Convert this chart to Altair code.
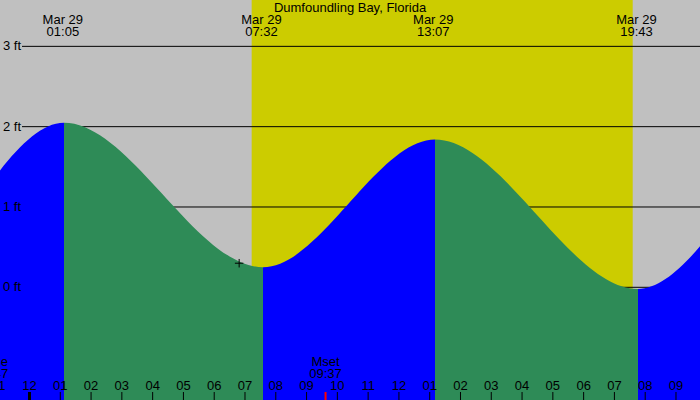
import altair as alt
import pandas as pd

# ---------------- data ----------------
# tide extrema: hours after Mar 29 00:00, height in feet (first/last two are off-screen neighbours)
extrema_time = [-11.0, -4.72, 1.121, 7.585, 13.172, 19.756, 25.7, 32.0]
extrema_ft = [1.9, 0.0, 2.05, 0.25, 1.84, -0.02, 1.95, 0.2]

# labelled extrema at the top
label_time = [1.0833, 7.5333, 13.1167, 19.7167]
label_date = ["Mar 29", "Mar 29", "Mar 29", "Mar 29"]
label_clock = ["01:05", "07:32", "13:07", "19:43"]

# daylight interval (hours)
sun_rise = [7.217]
sun_set = [19.594]

# height grid
ft_levels = [0, 1, 2, 3]
ft_labels = ["0 ft", "1 ft", "2 ft", "3 ft"]

# hour ticks along the bottom
hour_times = [-1, 0, 1, 2, 3, 4, 5, 6, 7, 8, 9, 10, 11, 12, 13, 14, 15, 16, 17, 18, 19, 20, 21]
hour_labels = ["11", "12", "01", "02", "03", "04", "05", "06", "07", "08", "09", "10",
               "11", "12", "01", "02", "03", "04", "05", "06", "07", "08", "09"]
midnight = [0]

# moon events
moon_time = [-1.2167, 9.6167]
moon_event = ["Mrise", "Mset"]
moon_clock = ["22:47", "09:37"]

# current-time marker
marker_time = [6.81]
marker_ft = [0.30]

title_text = "Dumfoundling Bay, Florida"

# ---------------- styling ----------------
GRAY = "#C0C0C0"
YELLOW = "#CCCC00"
BLUE = "#0000FF"
GREEN = "#2E8B57"
FONT = "Liberation Sans"
NARROW = "Liberation Sans Narrow, Arial Narrow, Liberation Sans"

W, H = 700, 400
X_DOM = [-0.9583, 21.78]
Y_DOM = [-1.403, 3.577]
xs = alt.Scale(domain=X_DOM, nice=False, zero=False)
ys = alt.Scale(domain=Y_DOM, nice=False, zero=False)


def X(f="t"):
    return alt.X(f"{f}:Q", scale=xs, axis=None)


def Y(f="h"):
    return alt.Y(f"{f}:Q", scale=ys, axis=None)


tide = pd.DataFrame({"t": extrema_time, "h": extrema_ft})
tops = pd.DataFrame({"t": label_time, "d": label_date, "c": label_clock})
day = pd.DataFrame({"t": sun_rise, "t2": sun_set})
grid = pd.DataFrame({"h": ft_levels, "lab": ft_labels})
hours = pd.DataFrame({"t": hour_times, "lab": hour_labels})
mid = pd.DataFrame({"t": midnight})
moon = pd.DataFrame({"t": moon_time, "ev": moon_event, "c": moon_clock})
mark = pd.DataFrame({"t": marker_time, "h": marker_ft})
ttl = pd.DataFrame({"t": [(X_DOM[0] + X_DOM[1]) / 2], "lab": [title_text]})

# gradient with hard stops: blue for rising, green for falling
t0, t1 = extrema_time[0], extrema_time[-1]
stops = []
for i in range(len(extrema_time) - 1):
    col = BLUE if extrema_ft[i + 1] > extrema_ft[i] else GREEN
    a = (extrema_time[i] - t0) / (t1 - t0)
    b = (extrema_time[i + 1] - t0) / (t1 - t0)
    stops.append(alt.GradientStop(color=col, offset=a))
    stops.append(alt.GradientStop(color=col, offset=b))
grad = alt.Gradient(gradient="linear", stops=stops, x1=0, x2=1, y1=0, y2=0)

daylight = alt.Chart(day).mark_rect(color=YELLOW).encode(x=X("t"), x2="t2:Q")

gridlines = alt.Chart(grid).mark_rule(color="black", strokeWidth=1).encode(
    y=Y("h"), x=alt.value(22), x2=alt.value(W))

area = alt.Chart(tide).mark_area(interpolate="monotone", clip=True, color=grad).encode(
    x=X("t"), y=Y("h"), y2=alt.datum(Y_DOM[0]))

ftlab = alt.Chart(grid).mark_text(align="left", baseline="middle", font=FONT, fontSize=13,
                                  color="black").encode(
    y=Y("h"), x=alt.value(3), text="lab:N")

topdate = alt.Chart(tops).mark_text(align="center", baseline="alphabetic", font=FONT,
                                    fontSize=13, color="black").encode(
    x=X("t"), y=alt.value(24), text="d:N")
topclock = alt.Chart(tops).mark_text(align="center", baseline="alphabetic", font=FONT,
                                     fontSize=13, color="black").encode(
    x=X("t"), y=alt.value(36), text="c:N")

title = alt.Chart(ttl).mark_text(align="center", baseline="alphabetic", font=FONT,
                                 fontSize=13, color="black").encode(
    x=X("t"), y=alt.value(12), text="lab:N")

ticks = alt.Chart(hours).mark_rule(color="black", strokeWidth=1).encode(
    x=X("t"), y=alt.value(392), y2=alt.value(H))
midtick = alt.Chart(mid).mark_rule(color="black", strokeWidth=3).encode(
    x=X("t"), y=alt.value(392), y2=alt.value(H))
hourlab = alt.Chart(hours).mark_text(align="center", baseline="alphabetic", font=NARROW,
                                     fontSize=13, color="black").encode(
    x=X("t"), y=alt.value(390), text="lab:N")

moontick = alt.Chart(moon).mark_rule(color="#FF0000", strokeWidth=2).encode(
    x=X("t"), y=alt.value(392), y2=alt.value(H))
moonev = alt.Chart(moon).mark_text(align="center", baseline="alphabetic", font=FONT,
                                   fontSize=13, color="black").encode(
    x=X("t"), y=alt.value(366), text="ev:N")
moonclk = alt.Chart(moon).mark_text(align="center", baseline="alphabetic", font=FONT,
                                    fontSize=13, color="black").encode(
    x=X("t"), y=alt.value(378), text="c:N")

plus = alt.Chart(mark).mark_point(shape="M-1,0L1,0M0,-1L0,1", filled=False, stroke="black",
                                  strokeWidth=1, size=72, opacity=1).encode(
    x=X("t"), y=Y("h"))

chart = alt.layer(
    daylight, gridlines, area, ftlab, topdate, topclock, title,
    ticks, midtick, moontick, hourlab, moonev, moonclk, plus
).properties(
    width=W, height=H, padding=0, autosize=alt.AutoSizeParams(type="none"),
    background=GRAY
).configure_view(stroke=None, fill=GRAY)

chart.save("out.html", embed_options={"renderer": "svg", "actions": False})
